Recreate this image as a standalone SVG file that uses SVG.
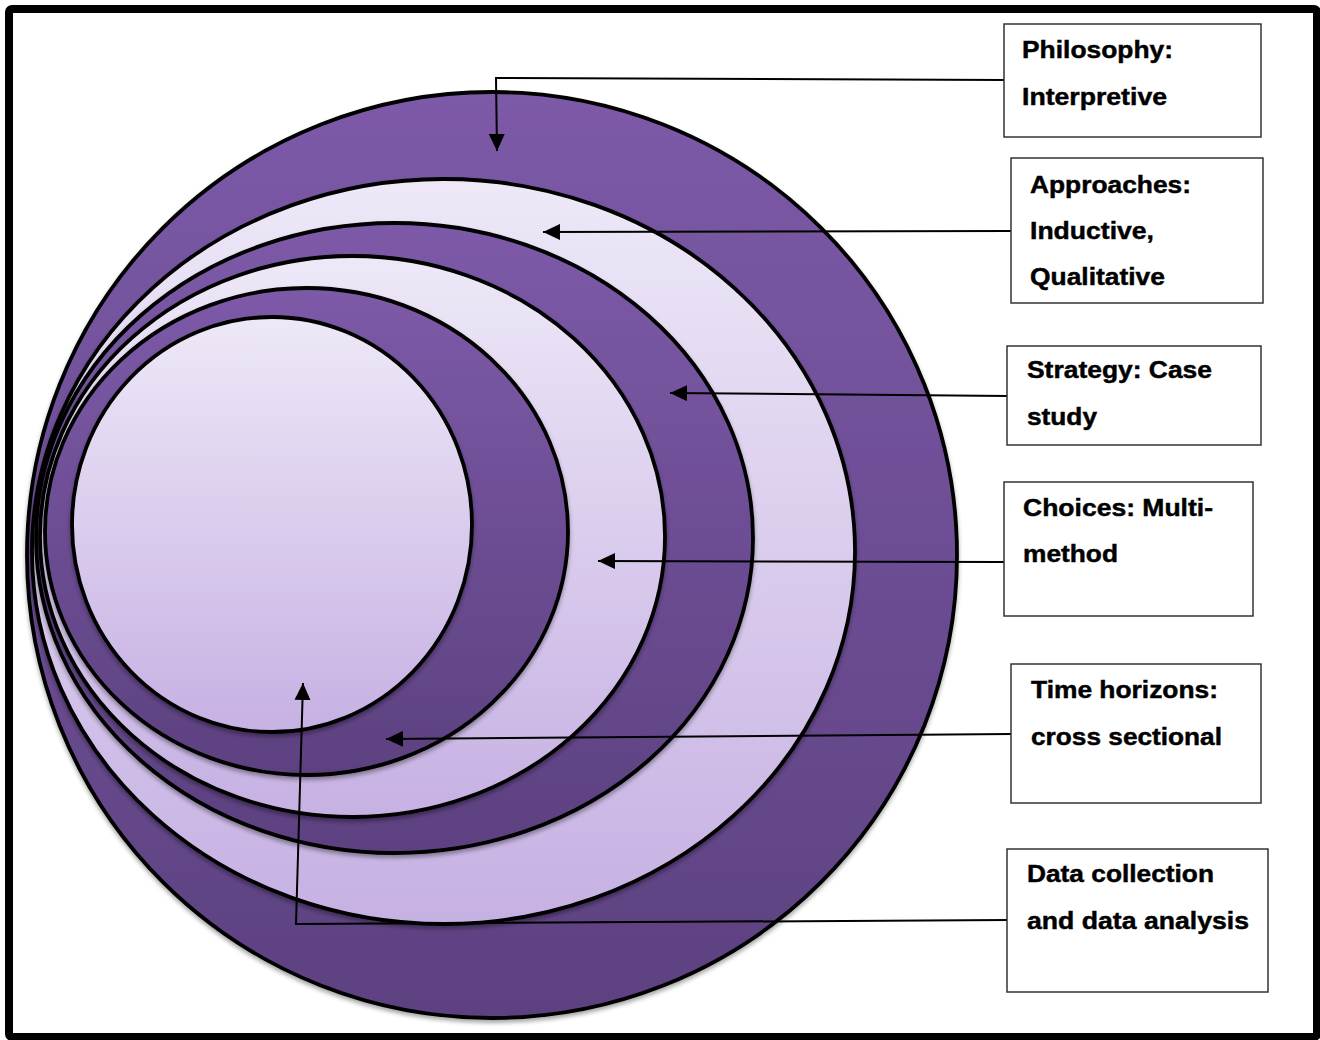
<svg xmlns="http://www.w3.org/2000/svg" width="1320" height="1040" viewBox="0 0 1320 1040">
  <style>
    .ring { stroke: #000; stroke-width: 3.8; filter: url(#shadow); }
    .dark { fill: url(#gDark); }
    .light { fill: url(#gLight); }
    .box { fill: #fff; stroke: #333; stroke-width: 1.5; }
    .lbl { font-family: "Liberation Sans", Arial, sans-serif; font-weight: bold; font-size: 24px; fill: #000; stroke: #000; stroke-width: 0.45; }
    .conn { fill: none; stroke: #000; stroke-width: 2; }
  </style>
  <defs>
    <linearGradient id="gDark" x1="0" y1="0" x2="0" y2="1">
      <stop offset="0" stop-color="#7c5aa8"/>
      <stop offset="1" stop-color="#5d4180"/>
    </linearGradient>
    <linearGradient id="gLight" x1="0" y1="0" x2="0" y2="1">
      <stop offset="0" stop-color="#eee8f7"/>
      <stop offset="1" stop-color="#c6b1e3"/>
    </linearGradient>
    <filter id="shadow" x="-5%" y="-5%" width="110%" height="112%">
      <feDropShadow dx="0" dy="3" stdDeviation="2" flood-color="#000" flood-opacity="0.35"/>
    </filter>
    <marker id="arr" markerUnits="userSpaceOnUse" markerWidth="18" markerHeight="16" refX="17" refY="8" orient="auto">
      <path d="M0,0 L17,8 L0,16 Z" fill="#000"/>
    </marker>
  </defs>

  <rect id="frame" x="9" y="9" width="1308" height="1028" rx="3" fill="#fff" stroke="#000" stroke-width="8"/>

  <g id="onion">
    <ellipse id="layer-philosophy" class="ring dark" cx="492" cy="555" rx="465" ry="463"/>
    <ellipse id="layer-approaches" class="ring light" cx="443.5" cy="551.5" rx="411.5" ry="372.5"/>
    <ellipse id="layer-strategy" class="ring dark" cx="394.5" cy="538" rx="358.5" ry="315"/>
    <ellipse id="layer-choices" class="ring light" cx="352.5" cy="536.5" rx="312.5" ry="280.5"/>
    <ellipse id="layer-time" class="ring dark" cx="306.5" cy="531.5" rx="261.5" ry="243.5"/>
    <ellipse id="layer-data" class="ring light" cx="272" cy="524.5" rx="200" ry="207.5"/>
  </g>

  <g id="connectors">
    <polyline class="conn" points="1004,80 496,78 497,151" marker-end="url(#arr)"/>
    <line class="conn" x1="1011" y1="231" x2="543" y2="232" marker-end="url(#arr)"/>
    <line class="conn" x1="1008" y1="396" x2="670" y2="393" marker-end="url(#arr)"/>
    <line class="conn" x1="1004" y1="562" x2="598" y2="561" marker-end="url(#arr)"/>
    <line class="conn" x1="1011" y1="734" x2="386" y2="739" marker-end="url(#arr)"/>
    <polyline class="conn" points="1008,920 296,924 303,683" marker-end="url(#arr)"/>
  </g>

  <g id="box-philosophy">
    <rect class="box" x="1004" y="24" width="257" height="113"/>
    <text class="lbl" x="1022" y="58" textLength="151" lengthAdjust="spacingAndGlyphs">Philosophy:</text>
    <text class="lbl" x="1022" y="105" textLength="145" lengthAdjust="spacingAndGlyphs">Interpretive</text>
  </g>
  <g id="box-approaches">
    <rect class="box" x="1011" y="158" width="252" height="145"/>
    <text class="lbl" x="1030" y="193" textLength="161" lengthAdjust="spacingAndGlyphs">Approaches:</text>
    <text class="lbl" x="1030" y="239" textLength="124" lengthAdjust="spacingAndGlyphs">Inductive,</text>
    <text class="lbl" x="1030" y="285" textLength="135" lengthAdjust="spacingAndGlyphs">Qualitative</text>
  </g>
  <g id="box-strategy">
    <rect class="box" x="1007" y="346" width="254" height="99"/>
    <text class="lbl" x="1027" y="378" textLength="185" lengthAdjust="spacingAndGlyphs">Strategy: Case</text>
    <text class="lbl" x="1027" y="425" textLength="70" lengthAdjust="spacingAndGlyphs">study</text>
  </g>
  <g id="box-choices">
    <rect class="box" x="1004" y="482" width="249" height="134"/>
    <text class="lbl" x="1023" y="516" textLength="190" lengthAdjust="spacingAndGlyphs">Choices: Multi-</text>
    <text class="lbl" x="1023" y="562" textLength="95" lengthAdjust="spacingAndGlyphs">method</text>
  </g>
  <g id="box-time">
    <rect class="box" x="1011" y="664" width="250" height="139"/>
    <text class="lbl" x="1031" y="698" textLength="187" lengthAdjust="spacingAndGlyphs">Time horizons:</text>
    <text class="lbl" x="1031" y="745" textLength="191" lengthAdjust="spacingAndGlyphs">cross sectional</text>
  </g>
  <g id="box-data">
    <rect class="box" x="1007" y="849" width="261" height="143"/>
    <text class="lbl" x="1027" y="882" textLength="187" lengthAdjust="spacingAndGlyphs">Data collection</text>
    <text class="lbl" x="1027" y="929" textLength="222" lengthAdjust="spacingAndGlyphs">and data analysis</text>
  </g>
</svg>
